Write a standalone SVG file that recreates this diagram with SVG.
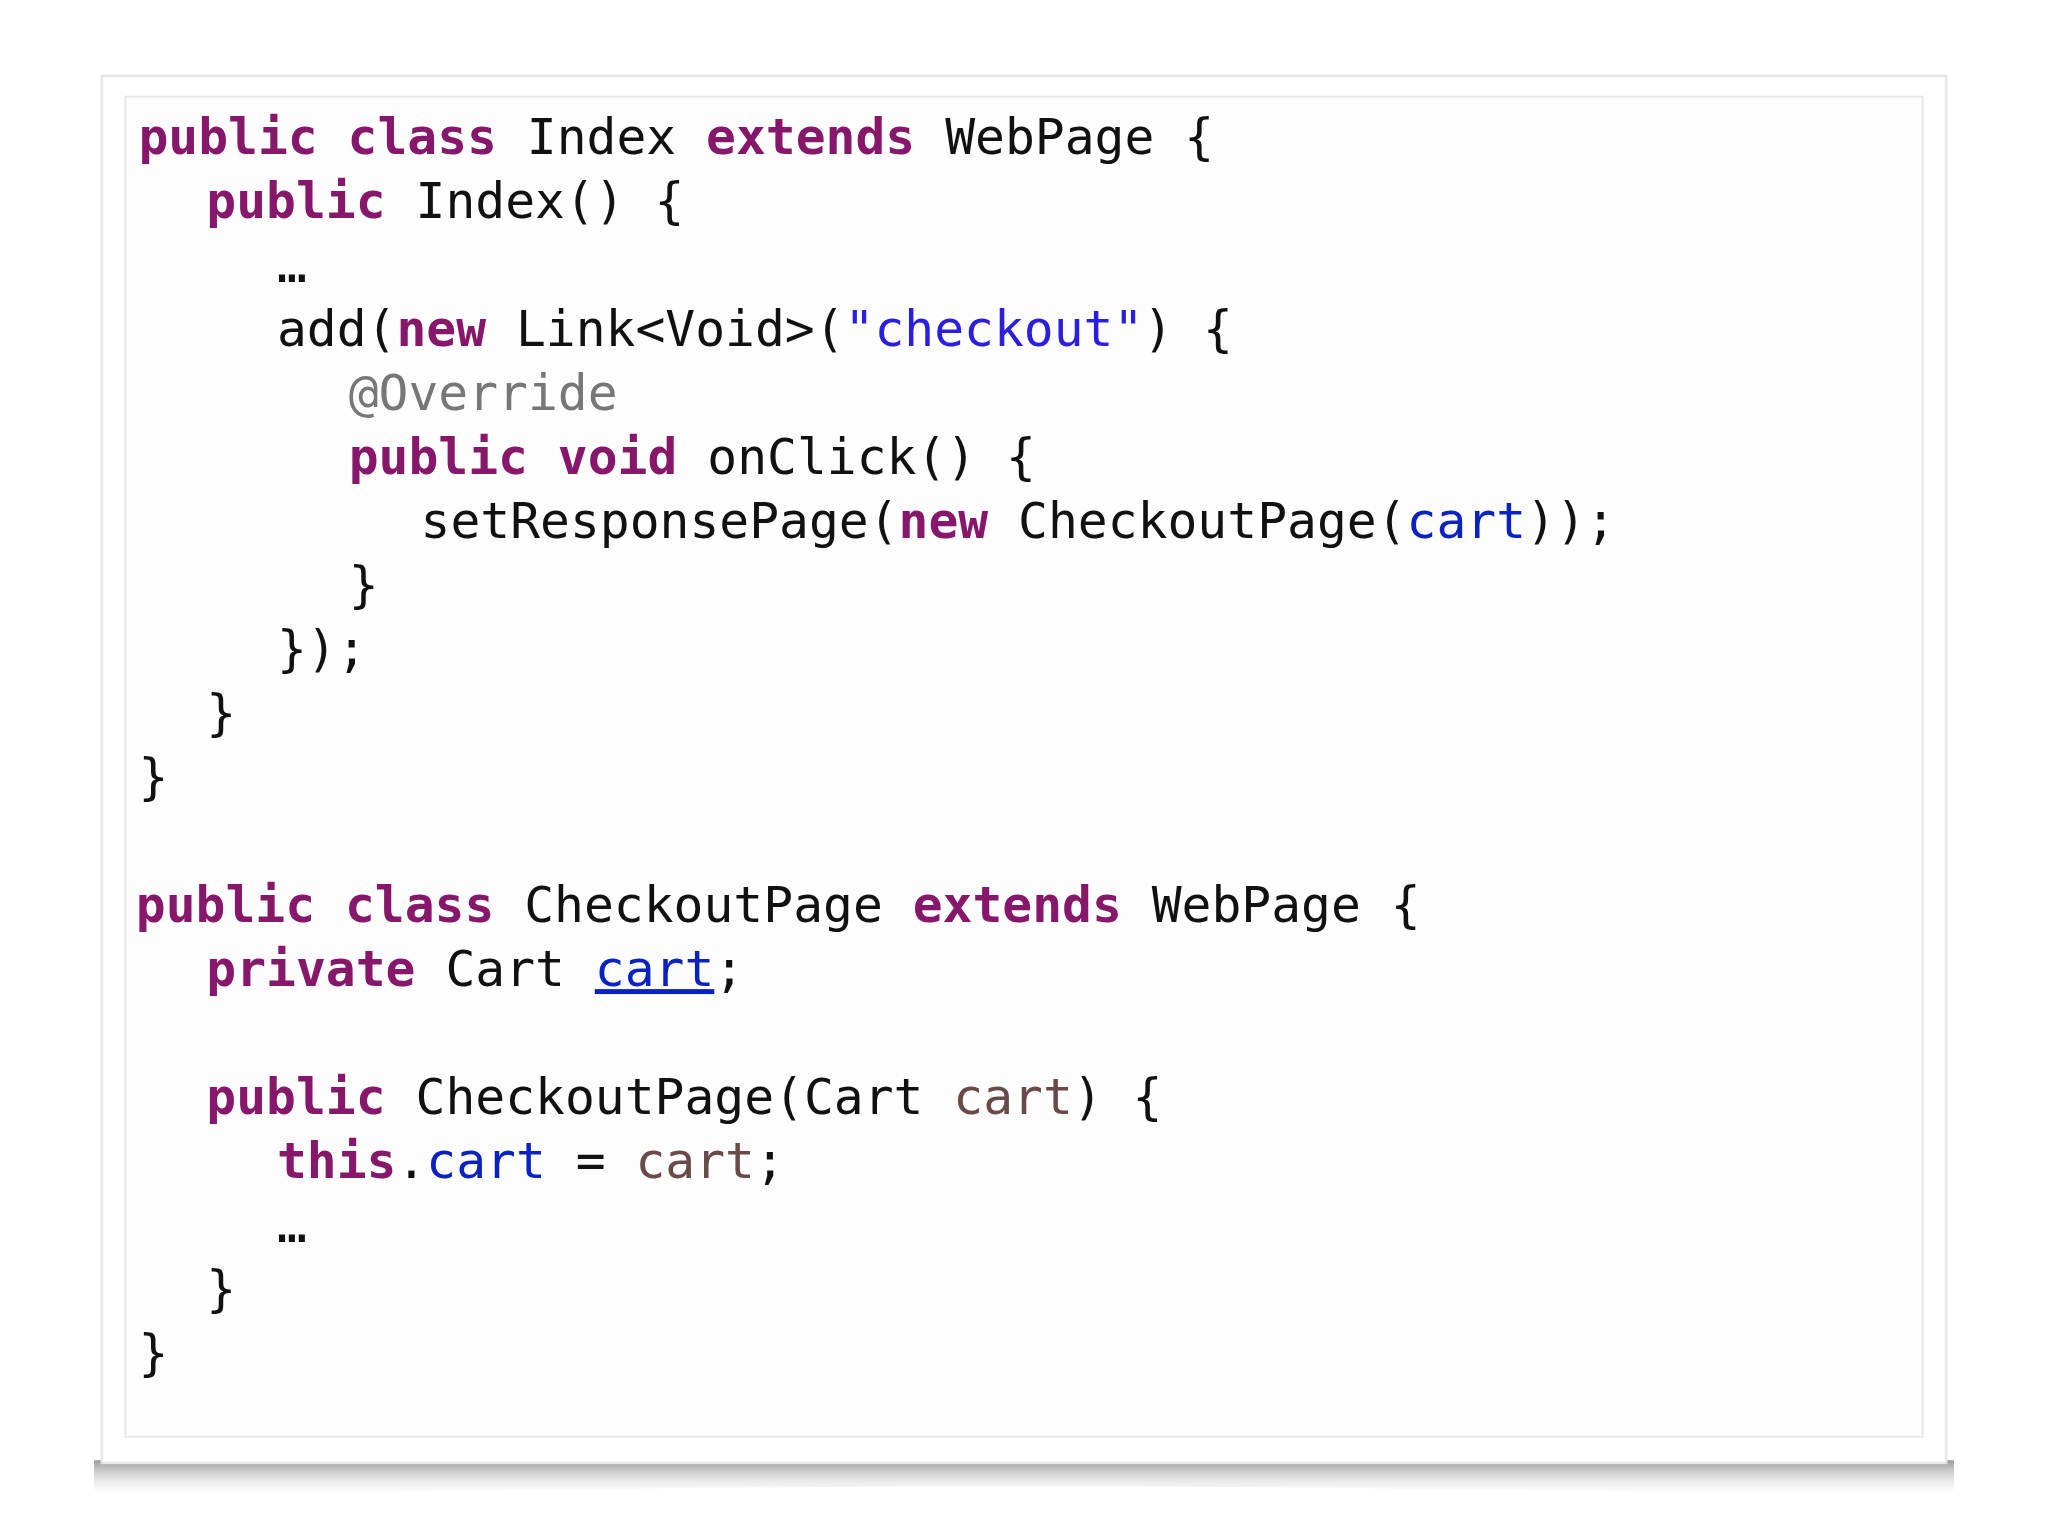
<svg xmlns="http://www.w3.org/2000/svg" width="2048" height="1536" viewBox="0 0 2048 1536">
<defs>
<linearGradient id="sh" x1="0" y1="0" x2="0" y2="1"><stop offset="0" stop-color="#777"/><stop offset="1" stop-color="#fff" stop-opacity="0"/></linearGradient>
<style>
text{font-family:"DejaVu Sans Mono","Liberation Mono",monospace;font-size:38px;fill:#111}
.k{fill:#86176a;font-weight:bold}
.s{fill:#2a1ee0}
.f{fill:#0a23c0}
.p{fill:#6a4a48}
.a{fill:#777}
</style>
</defs>
<rect width="2048" height="1536" fill="#fff"/>
<g transform="scale(1.30612)">
<path d="M72 1118 Q780 1108 1496 1118 L1496 1148 Q780 1128 72 1148 Z" fill="url(#sh)"/>
<rect x="78" y="58" width="1412" height="1062" fill="#fff" stroke="#e6e6e6" stroke-width="2"/>
<rect x="96" y="74" width="1376" height="1026" fill="#fdfdfe" stroke="#e8e8e8" stroke-width="1.5"/>
<g id="code" xml:space="preserve">
<text x="106" y="118"><tspan class="k">public class</tspan> Index <tspan class="k">extends</tspan> WebPage {</text>
<text x="158" y="167"><tspan class="k">public</tspan> Index() {</text>
<text x="212" y="216">…</text>
<text x="212" y="265">add(<tspan class="k">new</tspan> Link&lt;Void&gt;(<tspan class="s">"checkout"</tspan>) {</text>
<text x="267" y="314" class="a">@Override</text>
<text x="267" y="363"><tspan class="k">public void</tspan> onClick() {</text>
<text x="322" y="412">setResponsePage(<tspan class="k">new</tspan> CheckoutPage(<tspan class="f">cart</tspan>));</text>
<text x="267" y="461">}</text>
<text x="212" y="510">});</text>
<text x="158" y="559">}</text>
<text x="106" y="608">}</text>
<text x="104" y="706"><tspan class="k">public class</tspan> CheckoutPage <tspan class="k">extends</tspan> WebPage {</text>
<text x="158" y="755"><tspan class="k">private</tspan> Cart <tspan class="f" text-decoration="underline">cart</tspan>;</text>
<text x="158" y="853"><tspan class="k">public</tspan> CheckoutPage(Cart <tspan class="p">cart</tspan>) {</text>
<text x="212" y="902"><tspan class="k">this</tspan>.<tspan class="f">cart</tspan> = <tspan class="p">cart</tspan>;</text>
<text x="212" y="951">…</text>
<text x="158" y="1000">}</text>
<text x="106" y="1049">}</text>
</g>
</g>
</svg>
